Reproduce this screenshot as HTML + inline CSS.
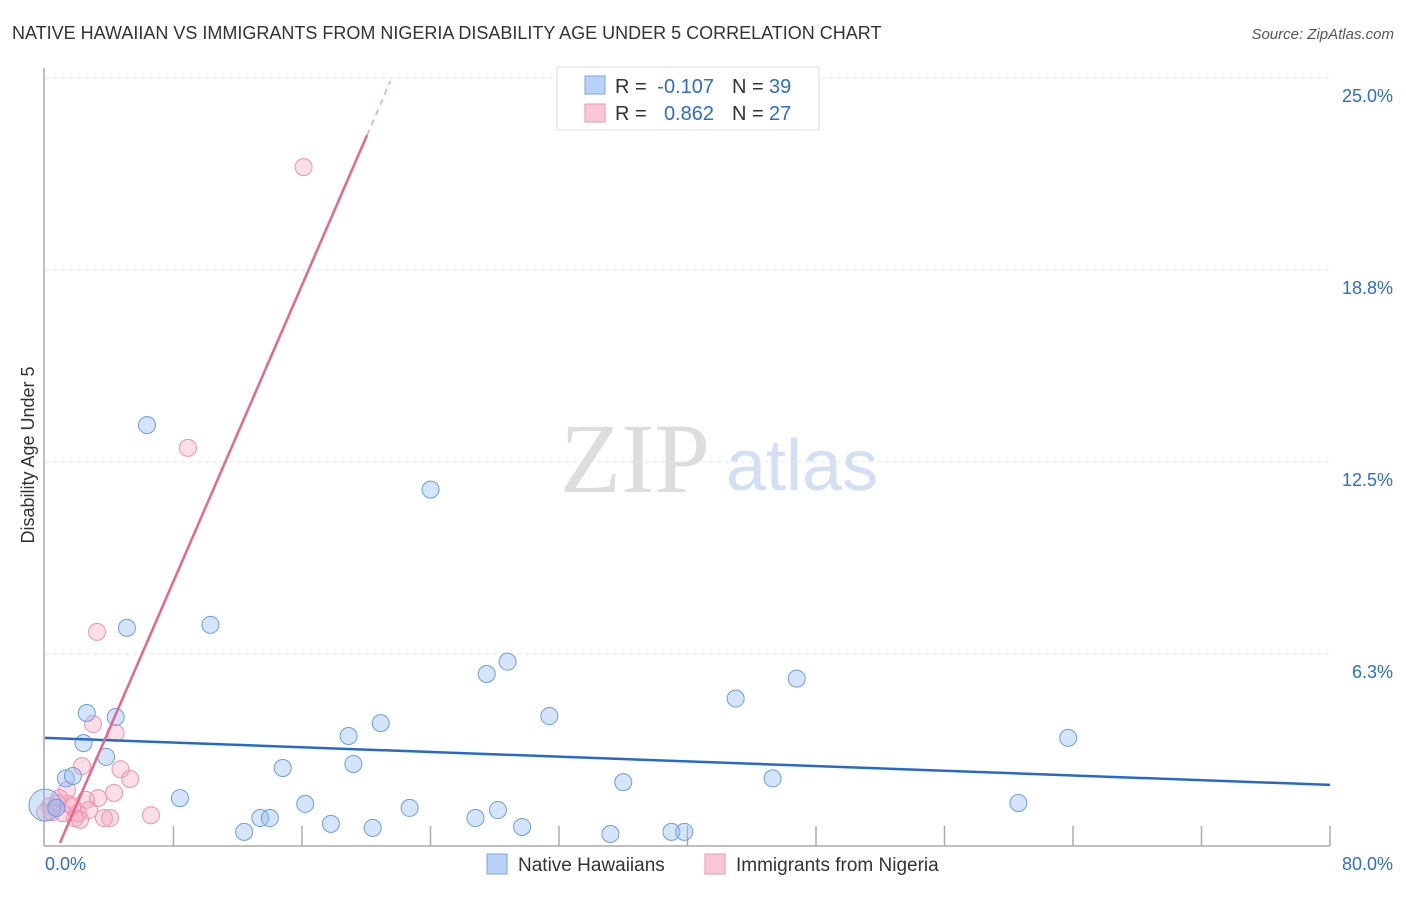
<!DOCTYPE html>
<html><head><meta charset="utf-8"><style>
body{margin:0;background:#fff;font-family:"Liberation Sans",sans-serif}
</style></head><body>
<svg width="1406" height="892" xmlns="http://www.w3.org/2000/svg">
<text x="12" y="39" font-size="18" fill="#333">NATIVE HAWAIIAN VS IMMIGRANTS FROM NIGERIA DISABILITY AGE UNDER 5 CORRELATION CHART</text>
<text x="1394" y="39" font-size="15" fill="#555" font-style="italic" text-anchor="end">Source: ZipAtlas.com</text>
<g><text x="635" y="492" font-size="100" fill="#ddd" font-family="Liberation Serif" text-anchor="middle">ZIP</text><text x="802" y="490" font-size="72" fill="#d3e0f3" text-anchor="middle">atlas</text></g>
<g id="grid"></g>
<g id="axes"></g>
<text transform="translate(34,455) rotate(-90)" font-size="18" fill="#333" text-anchor="middle">Disability Age Under 5</text>
<g id="marks"></g>
<g>
<rect x="557" y="67" width="262" height="63" fill="#fff" stroke="#ddd"/>
<rect x="585" y="76" width="20" height="18" fill="#b8d3f5" stroke="#7aa6e0"/>
<rect x="585" y="104" width="20" height="18" fill="#f9c8d6" stroke="#ee93ad"/>
<text x="615" y="93" font-size="20" fill="#333">R =</text>
<text x="714" y="93" font-size="20" fill="#2c6cd3" text-anchor="end">-0.107</text>
<text x="732" y="93" font-size="20" fill="#333">N =</text>
<text x="769" y="93" font-size="20" fill="#2c6cd3">39</text>
<text x="615" y="120" font-size="20" fill="#333">R =</text>
<text x="714" y="120" font-size="20" fill="#2c6cd3" text-anchor="end">0.862</text>
<text x="732" y="120" font-size="20" fill="#333">N =</text>
<text x="769" y="120" font-size="20" fill="#2c6cd3">27</text>
</g>
<g>
<rect x="487" y="854" width="20" height="20" fill="#b8d3f5" stroke="#7aa6e0"/>
<text x="518" y="871" font-size="19" fill="#333">Native Hawaiians</text>
<rect x="705" y="854" width="20" height="20" fill="#f9c8d6" stroke="#ee93ad"/>
<text x="736" y="871" font-size="19" fill="#333">Immigrants from Nigeria</text>
</g>
</svg>
<script>
const yTicks=[6.25,12.5,18.75,25];
const yTickLabels=["6.3%","12.5%","18.8%","25.0%"];
const blueX=[6.35,24.0,5.1,10.3,28.8,27.5,46.8,43.0,2.6,4.4,31.4,20.9,18.9,63.7,2.4,3.8,14.8,19.2,1.3,1.74,45.3,36.0,8.4,16.2,22.7,28.2,60.6,0.0,0.7,13.4,14.0,26.8,17.8,12.4,20.4,29.7,35.2,39.0,39.8];
const blueY=[13.7,11.6,7.1,7.2,6.0,5.6,5.45,4.8,4.33,4.2,4.23,4.0,3.58,3.52,3.35,2.9,2.54,2.67,2.2,2.28,2.2,2.08,1.56,1.37,1.24,1.17,1.4,1.33,1.24,0.91,0.91,0.91,0.72,0.46,0.59,0.62,0.39,0.46,0.46];
const pinkX=[16.1,8.9,3.24,2.99,4.4,2.3,4.7,5.3,1.37,4.3,3.3,2.55,1.43,0.75,0.3,0.44,1.12,2.05,2.74,1.87,2.18,3.67,4.05,6.6,0.9,1.7,0];
const pinkY=[22.1,12.96,6.97,3.97,3.68,2.6,2.5,2.18,1.82,1.73,1.56,1.5,1.37,1.4,1.3,1.1,1.07,1.07,1.17,0.91,0.85,0.91,0.91,1.0,1.56,1.3,1.1];
const blueTrend=[0,3.52,80,1.99];
const pinkTrend=[0.93,0.1,20.05,23.14,21.5,24.9];
const X=v=>45+v/80*1285, Y=v=>846-v/25*768;
const NS="http://www.w3.org/2000/svg";
function mk(t,a,p){const e=document.createElementNS(NS,t);for(const k in a)e.setAttribute(k,a[k]);p.appendChild(e);return e;}
const grid=document.getElementById('grid'),axes=document.getElementById('axes'),marks=document.getElementById('marks');
yTicks.forEach((t,i)=>{
 const l=mk('line',{x1:45,x2:1330,y1:Y(t),y2:Y(t),stroke:'#e4e4e4','stroke-dasharray':'4,4'},grid);
 
 
 const tx=mk('text',{x:1393,y:Y(t)+24,'font-size':18,fill:'#2c6cd3','text-anchor':'end'},axes);
 tx.textContent=yTickLabels[i];
 
 
});
const ya=mk('line',{x1:44,x2:44,y1:68,y2:846,stroke:'#aaa','stroke-width':1.5},axes);


const xa=mk('line',{x1:44,x2:1330,y1:846,y2:846,stroke:'#aaa','stroke-width':1.5},axes);


for(let i=1;i<=10;i++){const t=mk('line',{x1:X(i*8),x2:X(i*8),y1:826,y2:846,stroke:'#aaa','stroke-width':1.5},axes);
 
 }
[[0,"0.0%",'start',45],[80,"80.0%",'end',1393]].forEach(d=>{const t=mk('text',{x:d[3],y:870,'font-size':18,fill:'#2c6cd3','text-anchor':d[2]},axes);t.textContent=d[1];
 
 });
pinkX.forEach((v,i)=>{const c=mk('circle',{cx:X(v),cy:Y(pinkY[i]),r:8.5,fill:'rgba(244,160,185,0.35)',stroke:'#ee93ad','stroke-width':1},marks);
 
 });
blueX.forEach((v,i)=>{const c=mk('circle',{cx:X(v),cy:Y(blueY[i]),r:i==27?16:8.5,fill:'rgba(150,190,240,0.4)',stroke:'#6d9de0','stroke-width':1},marks);
 
 });
const bl=mk('line',{x1:X(blueTrend[0]),y1:Y(blueTrend[1]),x2:X(blueTrend[2]),y2:Y(blueTrend[3]),stroke:'#2569d0','stroke-width':2.5},marks);


const pl=mk('line',{x1:X(pinkTrend[0]),y1:Y(pinkTrend[1]),x2:X(pinkTrend[2]),y2:Y(pinkTrend[3]),stroke:'#e8658e','stroke-width':2.5},marks);


const pd=mk('line',{x1:X(pinkTrend[2]),y1:Y(pinkTrend[3]),x2:X(pinkTrend[4]),y2:Y(pinkTrend[5]),stroke:'#f0a0b8','stroke-width':1.5,'stroke-dasharray':'6,5'},marks);


</script>
</body></html>
